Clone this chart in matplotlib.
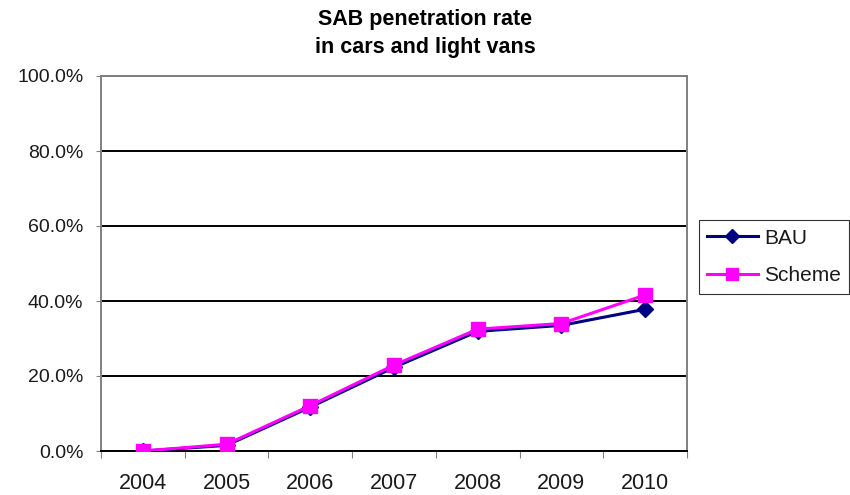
import matplotlib
matplotlib.use("Agg")
import matplotlib.pyplot as plt
from matplotlib.ticker import FixedLocator, PercentFormatter

years = ["2004", "2005", "2006", "2007", "2008", "2009", "2010"]
bau = [0.0, 1.5, 11.7, 22.3, 31.9, 33.5, 37.8]
scheme = [0.0, 1.8, 12.1, 22.9, 32.5, 34.0, 41.6]

plt.rcParams['font.family'] = ['Liberation Sans', 'DejaVu Sans']

fig = plt.figure(figsize=(8.5, 4.95), dpi=100)
ax = fig.add_axes([101/850, 1-451/495, (687-101)/850, (451-76)/495])

x = list(range(len(years)))
ax.plot(x, bau, color='#000080', marker='D', markersize=8, linewidth=2.2, label='BAU', zorder=3)
ax.plot(x, scheme, color='#FF00FF', marker='s', markersize=9.5, linewidth=2.2, label='Scheme', zorder=4)

ax.set_ylim(0, 100)
ax.set_xlim(-0.5, len(years) - 0.5)
ax.yaxis.set_major_locator(FixedLocator([0, 20, 40, 60, 80, 100]))
ax.yaxis.set_major_formatter(PercentFormatter(decimals=1))
ax.set_xticks([i - 0.5 for i in range(len(years) + 1)])
ax.set_xticklabels([])
ax.set_xticks(x, minor=True)
ax.set_xticklabels(years, minor=True)
ax.tick_params(axis='x', which='minor', length=0, pad=16, labelsize=15.5, labelcolor='#1a1a1a')
ax.tick_params(axis='x', which='major', length=5, direction='out', color='#808080')
ax.tick_params(axis='y', length=3.6, direction='out', labelsize=14, pad=9, colors='#808080', labelcolor='#1a1a1a')

ax.grid(axis='y', color='black', linewidth=1.4)
ax.set_axisbelow(True)
for s in ['top', 'right', 'left']:
    ax.spines[s].set_color('#808080')
    ax.spines[s].set_linewidth(1.4)
ax.spines['bottom'].set_color('black')
ax.spines['bottom'].set_linewidth(1.4)

fig.text(0.5, 1-20/495, "SAB penetration rate", ha='center', va='center', fontsize=15.5, fontweight='bold')
fig.text(0.5, 1-48/495, "in cars and light vans", ha='center', va='center', fontsize=15.5, fontweight='bold')

leg = fig.legend(loc='center', bbox_to_anchor=(774/850, 1-257/495), frameon=True, fancybox=False,
                 fontsize=15, handlelength=2.45, borderpad=0.4, labelspacing=0.9, handletextpad=0.3,
                 edgecolor='black', borderaxespad=0, markerscale=0.9)
leg.get_frame().set_linewidth(0.8)
for t in leg.get_texts():
    t.set_color('#1a1a1a')

fig.savefig("out.png", dpi=100)
